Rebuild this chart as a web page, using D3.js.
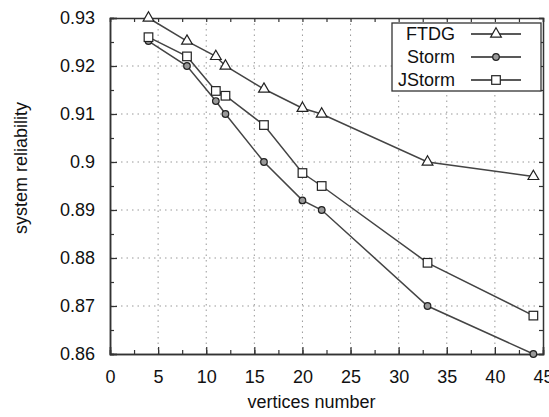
<!DOCTYPE html>
<html>
<head>
<meta charset="utf-8">
<script src="https://cdn.jsdelivr.net/npm/d3@7"></script>
<style>
  html, body { margin: 0; padding: 0; background: #fff; overflow: hidden; }
  svg { display: block; }
  text { font-family: "Liberation Sans", Arial, sans-serif; fill: #111; }
</style>
</head>
<body>
<div id="chart"></div>
<script>
// data
const vertices = [4, 8, 11, 12, 16, 20, 22, 33, 44]
const ftdg = [0.930, 0.9252, 0.922, 0.920, 0.9152, 0.9112, 0.910, 0.900, 0.897]
const storm = [0.9252, 0.920, 0.9127, 0.910, 0.900, 0.892, 0.890, 0.870, 0.860]
const jstorm = [0.926, 0.922, 0.9148, 0.9138, 0.9077, 0.8977, 0.895, 0.879, 0.868]
const seriesNames = ['FTDG', 'Storm', 'JStorm']
const xTicks = [0, 5, 10, 15, 20, 25, 30, 35, 40, 45]
const yTicks = [0.86, 0.87, 0.88, 0.89, 0.9, 0.91, 0.92, 0.93]

const width = 549
const height = 417
const margin = {top: 18, right: 6, bottom: 63, left: 110}
const innerWidth = width - margin.left - margin.right
const innerHeight = height - margin.top - margin.bottom
const lineColor = '#444'
const fontSize = '18px'

const svg = d3.select('#chart').append('svg')
  .attr('width', width)
  .attr('height', height)
const g = svg.append('g')
  .attr('transform', 'translate(' + margin.left + ',' + margin.top + ')')

const xScale = d3.scaleLinear().domain([0, 45]).range([0, innerWidth])
const yScale = d3.scaleLinear().domain([0.86, 0.93]).range([innerHeight, 0])

// dotted grid
g.append('g').selectAll('line').data(xTicks.slice(1, -1)).join('line')
  .attr('x1', d => xScale(d)).attr('x2', d => xScale(d))
  .attr('y1', 0).attr('y2', innerHeight)
  .attr('stroke', '#999').attr('stroke-dasharray', '1.5,4')
g.append('g').selectAll('line').data(yTicks.slice(1, -1)).join('line')
  .attr('y1', d => yScale(d)).attr('y2', d => yScale(d))
  .attr('x1', 0).attr('x2', innerWidth)
  .attr('stroke', '#999').attr('stroke-dasharray', '1.5,4')

// axes: ticks inside, mirrored on top and right
const xMinor = d3.range(0, 45.1, 2.5)
const yMinor = d3.range(0.86, 0.9301, 0.005)
function styleAxis(sel) {
  sel.select('.domain').attr('stroke', '#333').attr('stroke-width', 1.5)
  sel.selectAll('.tick line').attr('stroke', '#333').attr('stroke-width', 1.2)
}
function noText(sel) {
  sel.selectAll('.tick text').remove()
}
g.append('g').attr('transform', 'translate(0,' + innerHeight + ')')
  .call(d3.axisBottom(xScale).tickValues(xTicks).tickSize(-7).tickPadding(16).tickFormat(d3.format('d')))
  .call(styleAxis)
  .call(s => s.selectAll('text').style('font-size', fontSize))
g.append('g').attr('transform', 'translate(0,' + innerHeight + ')')
  .call(d3.axisBottom(xScale).tickValues(xMinor).tickSize(-4))
  .call(styleAxis).call(noText)
g.append('g')
  .call(d3.axisTop(xScale).tickValues(xMinor).tickSize(-4))
  .call(styleAxis).call(noText)
g.append('g')
  .call(d3.axisLeft(yScale).tickValues(yTicks).tickSize(-7).tickPadding(15).tickFormat(d => d3.format('')(+d.toFixed(2))))
  .call(styleAxis)
  .call(s => s.selectAll('text').style('font-size', fontSize))
g.append('g')
  .call(d3.axisLeft(yScale).tickValues(yMinor).tickSize(-4))
  .call(styleAxis).call(noText)
g.append('g').attr('transform', 'translate(' + innerWidth + ',0)')
  .call(d3.axisRight(yScale).tickValues(yMinor).tickSize(-4))
  .call(styleAxis).call(noText)

// axis titles
svg.append('text')
  .attr('x', margin.left + xScale(22.5) - 15).attr('y', 408)
  .attr('text-anchor', 'middle').style('font-size', fontSize)
  .text('vertices number')
svg.append('text')
  .attr('transform', 'translate(27,168) rotate(-90)')
  .attr('text-anchor', 'middle').style('font-size', fontSize)
  .text('system reliability')

// markers
const triangle = d3.symbol().type(d3.symbolTriangle).size(50)
function drawMarker(sel, name) {
  if (name === 'FTDG') {
    sel.append('path').attr('d', triangle)
      .attr('fill', '#fff').attr('stroke', '#222').attr('stroke-width', 1.2)
  } else if (name === 'Storm') {
    sel.append('circle').attr('r', 3.3)
      .attr('fill', '#999').attr('stroke', '#222').attr('stroke-width', 1.2)
  } else {
    sel.append('rect').attr('x', -4.3).attr('y', -4.3).attr('width', 8.6).attr('height', 8.6)
      .attr('fill', '#fff').attr('stroke', '#222').attr('stroke-width', 1.2)
  }
}

const allSeries = [ftdg, storm, jstorm]
const line = d3.line().x(d => xScale(d[0])).y(d => yScale(d[1]))
allSeries.forEach((values, i) => {
  const pts = vertices.map((v, j) => [v, values[j]])
  g.append('path').datum(pts)
    .attr('fill', 'none').attr('stroke', lineColor).attr('stroke-width', 1.5)
    .attr('d', line)
  g.append('g').selectAll('g').data(pts).join('g')
    .attr('transform', d => 'translate(' + xScale(d[0]) + ',' + yScale(d[1]) + ')')
    .each(function() { drawMarker(d3.select(this), seriesNames[i]) })
})

// legend
const legend = svg.append('g').attr('transform', 'translate(392,23)')
legend.append('rect').attr('width', 149).attr('height', 68)
  .attr('fill', '#fff').attr('stroke', '#333').attr('stroke-width', 1.3)
seriesNames.forEach((name, i) => {
  const y = 11 + i * 23
  legend.append('text').attr('x', 63).attr('y', y + 6)
    .attr('text-anchor', 'end').style('font-size', fontSize).text(name)
  legend.append('line').attr('x1', 79).attr('x2', 129).attr('y1', y).attr('y2', y)
    .attr('stroke', '#222').attr('stroke-width', 1.5)
  const m = legend.append('g').attr('transform', 'translate(104,' + y + ')')
  drawMarker(m, name)
})
</script>
</body>
</html>
